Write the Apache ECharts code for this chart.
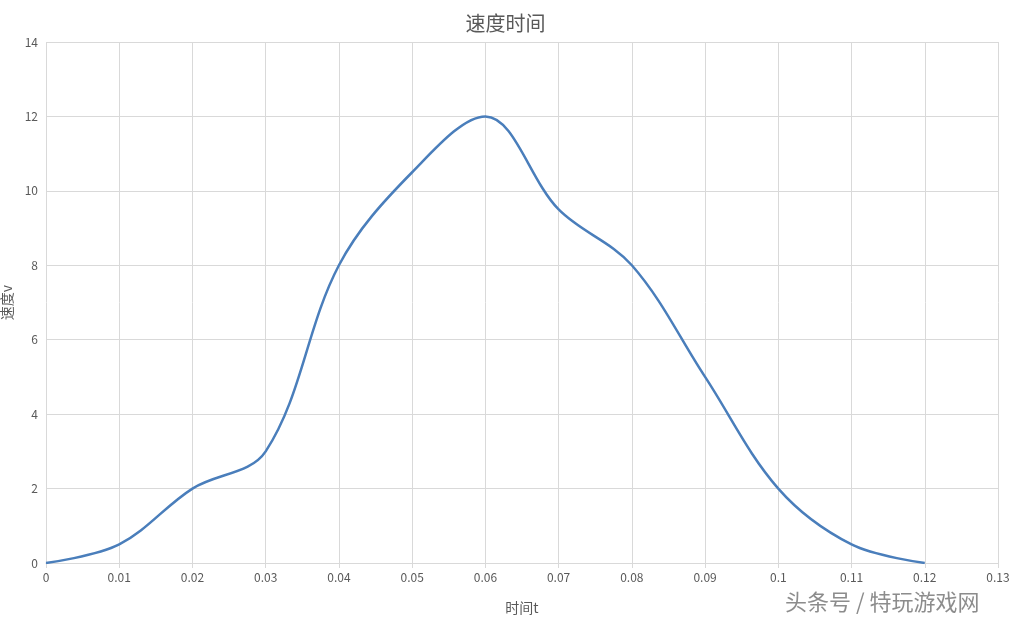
<!DOCTYPE html>
<html><head><meta charset="utf-8">
<script src="https://cdn.jsdelivr.net/npm/echarts@6/dist/echarts.min.js"></script>
<style>html,body{margin:0;padding:0;background:#fff}#c{width:1011px;height:626px}</style>
</head><body><div id="c"></div>
<script>
const times = [0,0.01,0.02,0.03,0.04,0.05,0.06,0.07,0.08,0.09,0.1,0.11,0.12];
const speeds = [0,0.5,2,3,8,10.5,12,9.5,8,5,2,0.5,0];
const chart = echarts.init(document.getElementById('c'));
const font = '"Noto Sans CJK SC", "Noto Sans", sans-serif';
chart.setOption({
  animation:false,
  textStyle:{fontFamily:font},
  title:{text:'速度时间',left:'center',top:8,textStyle:{fontSize:20,fontWeight:'normal',color:'#595959',fontFamily:font}},
  grid:{left:46,right:13,top:42,bottom:63,containLabel:false,outerBoundsMode:'none'},
  xAxis:{type:'value',min:0,max:0.13,interval:0.01,name:'时间t',nameLocation:'middle',nameGap:38,
    nameTextStyle:{color:'#595959',fontSize:14},
    axisLine:{lineStyle:{color:'#d9d9d9'}},axisTick:{show:true,lineStyle:{color:'#d9d9d9'}},
    axisLabel:{color:'#595959',fontSize:12,formatter:v=>String(+v.toFixed(2))},
    splitLine:{show:true,lineStyle:{color:'#d9d9d9'}}},
  yAxis:{type:'value',min:0,max:14,interval:2,name:'速度v',nameLocation:'middle',nameGap:27,
    nameTextStyle:{color:'#595959',fontSize:14},
    axisLine:{show:false},axisTick:{show:false},
    axisLabel:{color:'#595959',fontSize:12},
    splitLine:{lineStyle:{color:'#d9d9d9'}}},
  graphic:[{type:'text',left:785,top:591,style:{text:'头条号 / 特玩游戏网',fontSize:22,fill:'rgba(120,120,120,0.85)',fontFamily:font}}],
  series:[{type:'line',data:times.map((t,i)=>[t,speeds[i]]),smooth:0.35,showSymbol:false,
    lineStyle:{color:'#4a7ebb',width:2.5}}]
});
</script></body></html>
